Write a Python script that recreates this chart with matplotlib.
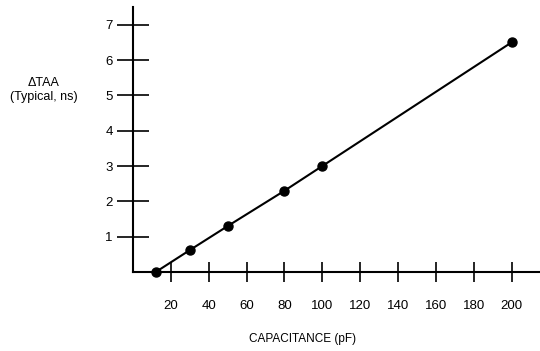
import matplotlib
matplotlib.use("Agg")
import matplotlib.pyplot as plt

plt.rcParams['font.family'] = ['Liberation Sans', 'DejaVu Sans']

# data
capacitance = [12, 30, 50, 80, 100, 200]
delta_taa = [0.0, 0.62, 1.3, 2.3, 3.0, 6.5]
x_ticks = [20, 40, 60, 80, 100, 120, 140, 160, 180, 200]
y_ticks = [1, 2, 3, 4, 5, 6, 7]

fig = plt.figure(figsize=(5.4, 3.51), dpi=100)
ax = fig.add_axes([0.2463, 0.225, 0.7537, 0.755])

ax.plot(capacitance, delta_taa, color='black', lw=1.5,
        marker='o', markersize=6.5, clip_on=False, zorder=3)

ax.set_xlim(0, 215)
ax.set_ylim(0, 7.5)
ax.set_xticks(x_ticks)
ax.set_yticks(y_ticks)

for side in ['top', 'right']:
    ax.spines[side].set_visible(False)
for side in ['left', 'bottom']:
    ax.spines[side].set_linewidth(1.5)

ax.tick_params(axis='y', direction='inout', length=23, width=1.2,
               pad=3, labelsize=9.5)
ax.tick_params(axis='x', direction='inout', length=15, width=1.2,
               pad=13, labelsize=9.5)

fig.text(44 / 540, 1 - 90 / 351, 'ΔTAA\n(Typical, ns)', ha='center',
         va='center', fontsize=9, linespacing=1.25)
fig.text(303 / 540, 1 - 339 / 351, 'CAPACITANCE (pF)', ha='center',
         va='center', fontsize=8.5)

fig.savefig('out.png', dpi=100, facecolor='white')
